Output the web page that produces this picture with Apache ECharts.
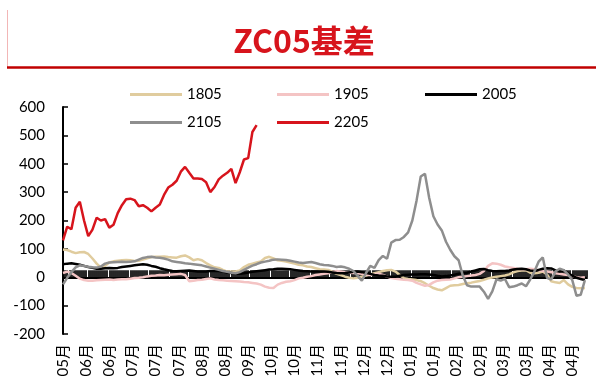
<!DOCTYPE html>
<html>
<head>
<meta charset="utf-8">
<script src="https://cdn.jsdelivr.net/npm/echarts@6/dist/echarts.min.js"></script>
<style>
  html, body { margin: 0; padding: 0; background: #fff; }
  #c { width: 596px; height: 385px; }
</style>
</head>
<body>
<div id="c"></div>
<script>
// Month tick labels along the trading-day axis (one every 11 trading days)
const monthTicks = ['05月','06月','06月','07月','07月','07月','08月','08月','09月','10月','10月','11月','11月','12月','12月','01月','01月','02月','02月','03月','03月','04月','04月'];
const dayCount = 250;   // trading days on the category axis
const labelEvery = 11;  // trading days between month labels
const step = 2;         // one basis reading every second trading day

// ZC05 basis per contract year
const s1805 = [98,96,90,85,88,89,82,66,48,34,
  40,52,56,58,60,61,60,57,58,62,
  67,71,72,72,73,71,70,69,74,77,
  70,60,64,60,50,42,35,33,26,20,
  20,20,24,36,44,48,52,56,68,72,
  66,60,58,55,52,48,44,42,38,36,
  32,28,27,26,20,12,8,2,-2,-4,
  -2,2,6,10,14,18,22,25,26,20,
  8,-3,-6,-8,-10,-14,-21,-30,-38,-43,
  -46,-38,-30,-28,-27,-24,-21,-19,-16,-13,
  -9,-4,-1,2,4,6,10,17,22,24,
  25,16,14,16,20,10,-14,-18,-20,-10,
  -25,-34,-38,-39,-38];
const s1905 = [15,20,15,5,-5,-10,-12,-12,-11,-10,
  -9,-8,-10,-8,-7,-7,-5,-3,-2,0,
  3,5,6,8,7,9,10,11,12,8,
  -14,-12,-10,-9,-6,-4,-8,-10,-11,-12,
  -13,-14,-15,-17,-18,-20,-22,-26,-33,-37,
  -38,-26,-20,-16,-14,-10,-4,-2,2,4,
  8,10,12,14,18,22,20,18,16,15,
  14,12,10,8,10,13,8,2,-3,-5,
  -7,-9,-10,-12,-20,-25,-30,-27,-18,-12,
  -10,-9,-8,-4,0,2,4,6,8,12,
  22,40,49,48,44,38,35,33,30,28,
  28,30,28,25,22,20,18,14,12,10,
  8,4,0,-2,0];
const s2005 = [46,48,49,47,44,40,36,33,30,30,
  32,33,32,33,36,38,40,42,44,46,
  44,40,37,32,28,25,22,21,22,23,
  24,22,20,20,20,22,22,22,20,17,
  15,13,12,14,17,19,21,23,25,27,
  28,30,30,29,28,26,24,22,21,20,
  20,20,20,19,17,15,14,15,17,19,
  20,18,15,12,8,6,5,3,2,2,
  5,8,9,10,10,11,11,10,8,5,
  3,4,6,9,12,14,16,20,24,28,
  29,25,22,21,22,22,24,27,29,30,
  28,24,22,26,30,32,31,24,20,24,
  14,6,-2,-6,-10];
const s2105 = [-25,-2,18,35,42,40,37,35,34,38,
  48,52,53,54,55,54,55,56,62,68,
  71,72,70,69,66,62,56,54,52,49,
  48,46,44,42,38,34,30,26,22,19,
  16,14,18,26,34,41,46,52,55,58,
  62,63,62,61,58,55,52,50,52,54,
  50,46,43,42,40,36,38,35,30,22,
  5,-12,15,40,33,60,75,65,122,131,
  132,142,158,200,270,355,365,280,215,186,
  165,125,97,74,60,5,-28,-33,-33,-33,
  -51,-76,-50,-7,-12,-6,-35,-33,-28,-22,
  -32,-8,20,55,70,-2,-8,20,30,25,
  10,-10,-65,-62,-10];
const s2205 = [130,178,169,245,266,200,145,168,210,200,
  205,175,185,226,254,275,277,272,250,254,
  245,232,245,256,290,316,326,340,372,389,
  368,348,348,346,335,300,318,345,358,368,
  382,332,370,415,420,512,536];

const seriesNames = ['1805', '1905', '2005', '2105', '2205'];
const seriesValues = [s1805, s1905, s2005, s2105, s2205];
const seriesColors = ['#E0CC9E', '#F4C4C4', '#000000', '#8E8E8E', '#D7141C'];

const days = Array.from({ length: dayCount }, (_, i) => String(i));
const toPoints = vals => vals.map((v, k) => [k * step, v]);

const font = 'Lato, "Noto Sans CJK SC", sans-serif';

// legend entry top-left corners: two rows of up to three entries
const legendSpots = [[130, 87], [277, 87], [425, 87], [130, 115], [277, 115]];

const chart = echarts.init(document.getElementById('c'), null, { renderer: 'canvas' });

chart.setOption({
  animation: false,
  backgroundColor: '#fff',
  grid: { left: 63, right: 9, top: 107, bottom: 51 },
  graphic: [
    { type: 'line', shape: { x1: 7.5, y1: 10, x2: 7.5, y2: 67 },
      style: { stroke: '#F2B6B6', lineWidth: 1 } },
    { type: 'line', shape: { x1: 7, y1: 67.5, x2: 596, y2: 67.5 },
      style: { stroke: '#C00000', lineWidth: 2.5 } },
    { type: 'text', x: 304, y: 41,
      style: { text: 'ZC05基差', fill: '#D7141C', font: 'bold 32px "Noto Sans CJK SC", sans-serif',
               textAlign: 'center', textVerticalAlign: 'middle' } }
  ],
  legend: seriesNames.map((name, i) => ({
    data: [name],
    left: legendSpots[i][0],
    top: legendSpots[i][1],
    padding: 0,
    icon: 'rect',
    itemWidth: 52,
    itemHeight: 3,
    textStyle: { fontSize: 15, color: '#000', fontFamily: font }
  })),
  xAxis: [
    {
      // zero line with a tick on every trading day
      type: 'category', data: days, boundaryGap: false, position: 'top',
      axisLine: { onZero: true, lineStyle: { color: '#000', width: 2 } },
      axisTick: { show: true, interval: 0, length: 7, lineStyle: { color: '#000', width: 1.7 } },
      axisLabel: { show: false },
      splitLine: { show: false }
    },
    {
      // month labels below the plot
      type: 'category', data: days, boundaryGap: false, position: 'bottom',
      axisLine: { show: false, onZero: false },
      axisTick: { show: false },
      splitLine: { show: false },
      axisLabel: {
        interval: labelEvery - 1, rotate: 90, margin: 10,
        fontSize: 15, color: '#000', fontFamily: font,
        formatter: (v, i) => (i % labelEvery === 0 && monthTicks[i / labelEvery]) || ''
      }
    }
  ],
  yAxis: {
    type: 'value', min: -200, max: 600, interval: 100,
    axisLine: { show: true, lineStyle: { color: '#000', width: 2 } },
    axisTick: { show: true, inside: true, length: 5, lineStyle: { color: '#000', width: 1.5 } },
    splitLine: { show: false },
    axisLabel: { fontSize: 15, color: '#000', margin: 18, fontFamily: font }
  },
  series: seriesNames.map((name, i) => ({
    name, type: 'line', xAxisIndex: 0,
    data: toPoints(seriesValues[i]),
    symbol: 'none',
    lineStyle: { width: 2.5, color: seriesColors[i] },
    itemStyle: { color: seriesColors[i] }
  }))
});
</script>
</body>
</html>
